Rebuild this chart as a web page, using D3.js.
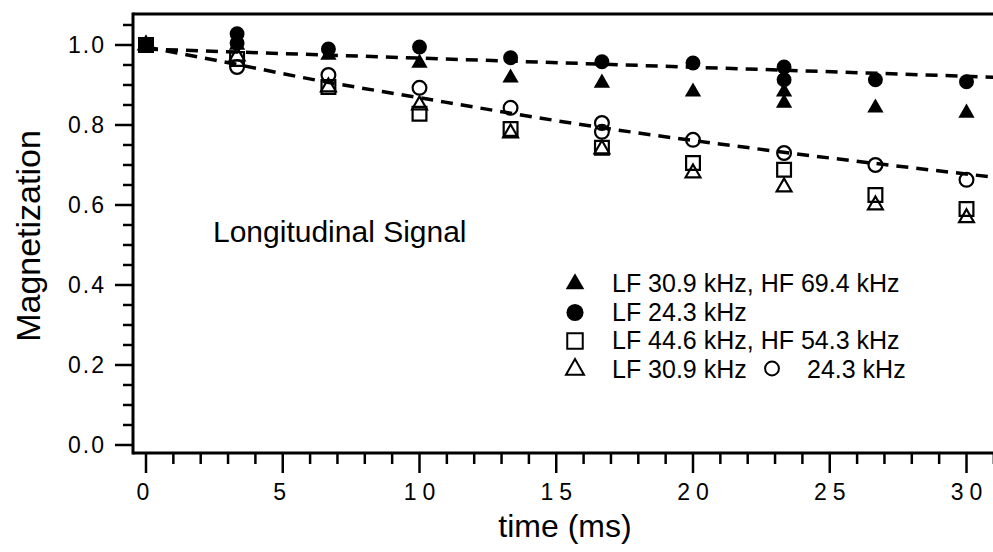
<!DOCTYPE html>
<html>
<head>
<meta charset="utf-8">
<script src="https://cdn.jsdelivr.net/npm/d3@7"></script>
<style>
  html, body { margin: 0; padding: 0; background: #fff; }
  svg { display: block; font-family: "Liberation Sans", Arial, Helvetica, sans-serif; }
</style>
</head>
<body>
<svg id="chart" width="993" height="552"></svg>
<script>
// time points (ms)
const times = [0, 3.33, 6.67, 10, 13.33, 16.67, 20, 23.33, 26.67, 30];

// filled symbols
const lf309hf694 = [1.0, 1.0, 0.975, 0.955, 0.918, 0.905, 0.883, 0.855, 0.843, 0.83];
const lf243 = [1.0, 1.028, 0.99, 0.995, 0.968, 0.958, 0.955, 0.945, 0.913, 0.908];
// open symbols
const lf446hf543 = [1.0, 0.965, 0.895, 0.828, 0.79, 0.743, 0.705, 0.688, 0.625, 0.59];
const lf309 = [1.0, 0.972, 0.895, 0.85, 0.78, 0.74, 0.68, 0.645, 0.60, 0.568];
const open243 = [1.0, 0.945, 0.925, 0.893, 0.843, 0.805, 0.763, 0.73, 0.70, 0.663];

// repeated runs at a few times
const extraTimes = [3.33, 16.67, 23.33];
const lf309hf694Extra = [null, null, 0.883];
const lf243Extra = [1.005, null, 0.913];
const open243Extra = [null, 0.783, null];

// dashed fit curves
const fitSlowT = [0, 31.2];
const fitSlowV = [0.99, 0.919];
const fitFastT = [0, 2.5, 6.6, 9.4, 16.5, 23.25, 31.2];
const fitFastV = [0.995, 0.9625, 0.9075, 0.875, 0.795, 0.7325, 0.668];

const yTicks = [0, 0.2, 0.4, 0.6, 0.8, 1.0];
const xTicks = [0, 5, 10, 15, 20, 25, 30];

const svg = d3.select('#chart');
const x = d3.scaleLinear().domain([0, 30]).range([146, 966.5]);
const y = d3.scaleLinear().domain([0, 1]).range([445, 45]);
const axisX = 133, axisY = 453, topY = 14;

// frame: top line, left axis, bottom axis
svg.append('line').attr('x1', axisX).attr('x2', 993).attr('y1', topY).attr('y2', topY)
  .attr('stroke', '#000').attr('stroke-width', 3);
svg.append('line').attr('x1', axisX).attr('x2', axisX).attr('y1', topY - 1.5).attr('y2', axisY + 1.5)
  .attr('stroke', '#000').attr('stroke-width', 3);
svg.append('line').attr('x1', axisX).attr('x2', 993).attr('y1', axisY).attr('y2', axisY)
  .attr('stroke', '#000').attr('stroke-width', 3);

// y ticks
const yMinor = d3.range(0, 1.06, 0.05);
svg.append('g').selectAll('line').data(yMinor).join('line')
  .attr('x1', d => axisX - (Math.abs(d * 5 - Math.round(d * 5)) < 1e-6 ? 18 : 10))
  .attr('x2', axisX)
  .attr('y1', d => y(d)).attr('y2', d => y(d))
  .attr('stroke', '#000').attr('stroke-width', 2.5);
svg.append('g').selectAll('text').data(yTicks).join('text')
  .attr('x', 106).attr('y', d => y(d)).attr('dy', '0.36em')
  .attr('text-anchor', 'end').attr('font-size', 23).attr('letter-spacing', 2)
  .text(d => d3.format('.1f')(d));

// x ticks
const xMinor = d3.range(0, 32, 1);
svg.append('g').selectAll('line').data(xMinor).join('line')
  .attr('x1', d => x(d)).attr('x2', d => x(d))
  .attr('y1', axisY).attr('y2', d => axisY + (d % 5 === 0 ? 20 : 11))
  .attr('stroke', '#000').attr('stroke-width', 2.5);
svg.append('g').selectAll('text').data(xTicks).join('text')
  .attr('x', d => x(d) + (d >= 10 ? 3 : 0)).attr('y', 500)
  .attr('text-anchor', 'middle').attr('font-size', 23).attr('letter-spacing', 6)
  .text(d => d);

// axis titles
svg.append('text').attr('x', 565).attr('y', 537).attr('text-anchor', 'middle')
  .attr('font-size', 32).text('time (ms)');
svg.append('text').attr('transform', 'translate(40,236) rotate(-90)').attr('text-anchor', 'middle')
  .attr('font-size', 34).text('Magnetization');

// fit curves
const fitLine = d3.line().x(d => x(d[0])).y(d => y(d[1])).curve(d3.curveMonotoneX);
[[fitSlowT, fitSlowV], [fitFastT, fitFastV]].forEach(([ts, vs]) => {
  svg.append('path').datum(ts.map((t, i) => [t, vs[i]]))
    .attr('fill', 'none').attr('stroke', '#000').attr('stroke-width', 3.5)
    .attr('stroke-dasharray', '12,8').attr('d', fitLine);
});

// markers
const series = [
  { vals: lf446hf543, ts: times, type: d3.symbolSquare, size: 190, filled: false },
  { vals: lf309, ts: times, type: d3.symbolTriangle, size: 95, filled: false },
  { vals: open243, ts: times, type: d3.symbolCircle, size: 150, filled: false },
  { vals: open243Extra, ts: extraTimes, type: d3.symbolCircle, size: 150, filled: false },
  { vals: lf309hf694, ts: times, type: d3.symbolTriangle, size: 115, filled: true },
  { vals: lf309hf694Extra, ts: extraTimes, type: d3.symbolTriangle, size: 115, filled: true },
  { vals: lf243, ts: times, type: d3.symbolCircle, size: 175, filled: true },
  { vals: lf243Extra, ts: extraTimes, type: d3.symbolCircle, size: 175, filled: true }
];
series.forEach(s => {
  const pts = s.ts.map((t, i) => [t, s.vals[i]]).filter(p => p[1] != null);
  svg.append('g').selectAll('path').data(pts).join('path')
    .attr('transform', d => `translate(${x(d[0])},${y(d[1])})`)
    .attr('d', d3.symbol().type(s.type).size(s.size))
    .attr('fill', s.filled ? '#000' : 'none')
    .attr('stroke', '#000').attr('stroke-width', s.filled ? 0 : 2.2);
});

// annotation
svg.append('text').attr('x', 213).attr('y', 242).attr('font-size', 30).text('Longitudinal Signal');

// legend
const legend = [
  { type: d3.symbolTriangle, size: 150, filled: true, label: 'LF 30.9 kHz, HF 69.4 kHz' },
  { type: d3.symbolCircle, size: 230, filled: true, label: 'LF 24.3 kHz' },
  { type: d3.symbolSquare, size: 240, filled: false, label: 'LF 44.6 kHz, HF 54.3 kHz' },
  { type: d3.symbolTriangle, size: 140, filled: false, label: 'LF 30.9 kHz' }
];
const lg = svg.append('g');
legend.forEach((d, i) => {
  const yy = 283 + i * 28.5;
  lg.append('path').attr('transform', `translate(575,${yy + 1})`)
    .attr('d', d3.symbol().type(d.type).size(d.size))
    .attr('fill', d.filled ? '#000' : 'none')
    .attr('stroke', '#000').attr('stroke-width', d.filled ? 0 : 2);
  lg.append('text').attr('x', 612).attr('y', yy).attr('dy', '0.36em')
    .attr('font-size', 25).text(d.label);
});
lg.append('path').attr('transform', `translate(772,${283 + 3 * 28.5})`)
  .attr('d', d3.symbol().type(d3.symbolCircle).size(150))
  .attr('fill', 'none').attr('stroke', '#000').attr('stroke-width', 2);
lg.append('text').attr('x', 807).attr('y', 283 + 3 * 28.5).attr('dy', '0.36em')
  .attr('font-size', 25).text('24.3 kHz');
</script>
</body>
</html>
